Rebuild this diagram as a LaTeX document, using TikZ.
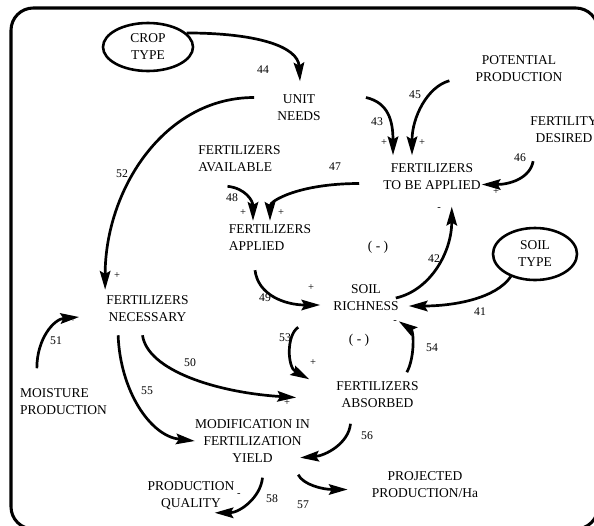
\documentclass[tikz,border=0pt]{standalone}
\usepackage{fontspec}
\setmainfont{Liberation Serif}
\usetikzlibrary{arrows.meta,shapes.geometric}

\begin{document}
\begin{tikzpicture}[x=0.03cm,y=-0.03cm,
    var/.style={align=center,inner sep=0pt,font=\fontsize{11.5}{14.5}\selectfont},
    exo/.style={ellipse,draw,line width=2.2pt,inner sep=0pt,align=center,font=\fontsize{11.5}{14.5}\selectfont},
    num/.style={inner sep=0pt,font=\fontsize{10}{12}\selectfont},
    sgn/.style={inner sep=0pt,font=\fontsize{9}{10}\selectfont},
    flow/.style={line width=2.3pt,-{Stealth[length=16pt,width=9pt,inset=2.5pt]}},
]
\useasboundingbox (0,0) rectangle (594,525);
\clip (0,0) rectangle (594,525);
\draw[line width=2.6pt,rounded corners=19pt] (11,8) rectangle (598,529);

% exogenous variables
\node[exo,minimum width=2.7cm,minimum height=1.44cm] (crop) at (148,47) {CROP\\TYPE};
\node[exo,minimum width=2.52cm,minimum height=1.56cm] (soil) at (535,254) {SOIL\\TYPE};

% variables
\node[var] (unit) at (299,107.5) {UNIT\\NEEDS};
\node[var] (potential) at (519,68.5) {POTENTIAL\\PRODUCTION};
\node[var] (fdes) at (564,130) {FERTILITY\\DESIRED};
\node[var] (ftba) at (432,176.5) {FERTILIZERS\\TO BE APPLIED};
\node[var,align=left] (favail) at (239.5,159) {FERTILIZERS\\AVAILABLE};
\node[var,align=left] (fapplied) at (270,238) {FERTILIZERS\\APPLIED};
\node[var] (soilr) at (366,298) {SOIL\\RICHNESS};
\node[var] (fnec) at (147.5,309) {FERTILIZERS\\NECESSARY};
\node[var,align=left] (moist) at (63.5,401.5) {MOISTURE\\PRODUCTION};
\node[var] (fabs) at (377.5,394.5) {FERTILIZERS\\ABSORBED};
\node[var] (modif) at (252.5,441) {MODIFICATION IN\\FERTILIZATION\\YIELD};
\node[var] (pqual) at (191,495.5) {PRODUCTION\\QUALITY};
\node[var] (proj) at (425,484.5) {PROJECTED\\PRODUCTION/Ha};

% loop polarity
\node[var] (loopa) at (378,247) {( - )};
\node[var] (loopb) at (359,340) {( - )};

% links
\draw[flow] (crop.20) .. controls +(70,0) and +(-2,-35) .. ([shift={(1,-13)}]unit.north);
\draw[flow] ([shift={(-23,-10)}]unit.west) .. controls +(-90,0) and +(0,-100) .. ([shift={(-1,-6)}]fnec.north west);
\draw[flow] ([shift={(45,-10)}]unit.east) .. controls +(22,5) and +(0,-35) .. ([shift={(-39,-8)}]ftba.north);
\draw[flow] ([shift={(-26,-1)}]potential.south west) .. controls +(-22,6) and +(0,-38) .. ([shift={(-20,-8)}]ftba.north);
\draw[flow] ([shift={(3,18)}]fdes.south west) .. controls +(-3,17) and +(28,0) .. ([shift={(1,8)}]ftba.east);
\draw[flow] ([shift={(-24,7)}]ftba.west) .. controls +(-60,0) and +(0,-20) .. ([shift={(0,-4)}]fapplied.north);
\draw[flow] ([shift={(-12,14)}]favail.south) .. controls +(18,2) and +(0,-20) .. ([shift={(-17,-4)}]fapplied.north);
\draw[flow] ([shift={(-15,19)}]fapplied.south) .. controls +(3,25) and +(-35,0) .. ([shift={(-13,7)}]soilr.west);
\draw[flow] ([shift={(-3,0)}]soilr.east) .. controls +(35,-8) and +(0,45) .. ([shift={(-29,17)}]ftba.south east);
\draw[flow] (soil.223) .. controls +(-15,22) and +(45,0) .. ([shift={(10,8)}]soilr.east);
\draw[flow] ([shift={(17,-20)}]moist.north west) .. controls +(0,-30) and +(-25,2) .. ([shift={(-27,8)}]fnec.west);
\draw[flow] ([shift={(-5,13)}]fnec.south) .. controls +(5,35) and +(-80,-5) .. ([shift={(-40,3)}]fabs.west);
\draw[flow] ([shift={(12,13)}]fnec.south west) .. controls +(2,55) and +(-45,-5) .. (modif.west);
\draw[flow] ([shift={(-35,16)}]soilr.south west) .. controls +(-12,8) and +(-22,-12) .. ([shift={(-27,-2)}]fabs.north west);
\draw[flow] ([shift={(-12,-9)}]fabs.north east) .. controls +(8,-15) and +(15,10) .. ([shift={(0,10)}]soilr.south east);
\draw[flow] ([shift={(-27,16)}]fabs.south) .. controls +(-2,20) and +(25,-2) .. ([shift={(-10,-5)}]modif.south east);
\draw[flow] ([shift={(-12,12)}]modif.south east) .. controls +(5,10) and +(-25,0) .. ([shift={(-24,5)}]proj.west);
\draw[flow] ([shift={(10,15)}]modif.south) .. controls +(-2,20) and +(25,0) .. ([shift={(-20,3)}]pqual.south east);

% link numbers
\foreach \n/\x/\y in {41/480/312, 42/434/259, 43/377/122, 44/263/70, 45/415/95,
    46/520/158, 47/335/167, 48/232/198, 49/265/298, 50/190/363, 51/56/341,
    52/122/174, 53/285/338, 54/432/348, 55/147/391, 56/367/436, 57/303/505, 58/272/499}
  \node[num] (n\n) at (\x,\y) {\n};

% signs
\foreach \i/\s/\x/\y in {1/+/384/143, 2/+/422/143, 3/+/496/192, 4/-/439/209,
    5/+/243/213, 6/+/281/213, 7/+/117/276, 8/+/311/288, 9/-/395/322,
    10/+/313/363, 11/+/287/403, 12/+/73/320, 13/-/239/495}
  \node[sgn] (s\i) at (\x,\y) {\s};

\end{tikzpicture}
\end{document}
